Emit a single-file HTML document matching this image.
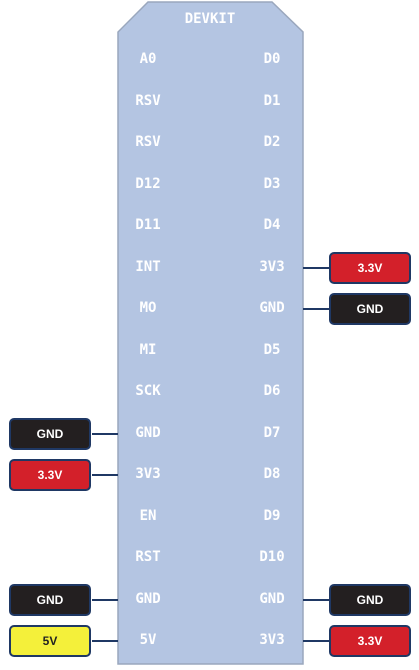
<!DOCTYPE html>
<html><head><style>
body{margin:0;width:419px;height:670px;background:#fff;position:relative;overflow:hidden;font-family:"DejaVu Sans Mono","Liberation Mono",monospace;}
.t{position:absolute;color:#fff;font-size:14px;font-weight:bold;width:60px;text-align:center;line-height:16px;}
.b{position:absolute;width:78px;height:28px;border:2.5px solid #1f3864;border-radius:5px;font-family:"Liberation Sans",sans-serif;font-size:12px;font-weight:bold;text-align:center;line-height:28px;}
.l{position:absolute;height:2px;background:#1f3864;}
</style></head><body>
<svg width="419" height="670" style="position:absolute;left:0;top:0">
<polygon points="148,2 272,2 303,32 303,664 118,664 118,32" fill="#b4c5e2" stroke="#9aa7bd" stroke-width="1.5"/>
</svg>
<div class="t" style="left:180px;top:11px">DEVKIT</div>
<div id="rows"></div>
<script>
var L=["A0","RSV","RSV","D12","D11","INT","MO","MI","SCK","GND","3V3","EN","RST","GND","5V"];
var R=["D0","D1","D2","D3","D4","3V3","GND","D5","D6","D7","D8","D9","D10","GND","3V3"];
var h="";
for(var i=0;i<15;i++){var y=51+41.5*i;
h+='<div class="t" style="left:118px;top:'+y+'px">'+L[i]+'</div>';
h+='<div class="t" style="left:242px;top:'+y+'px">'+R[i]+'</div>';}
function badge(side,i,txt,bg,fg){var y=58+41.5*i;
if(side=="l"){h+='<div class="l" style="left:92px;width:26px;top:'+(y+1)+'px"></div><div class="b" style="left:9px;top:'+(y-14)+'px;background:'+bg+';color:'+fg+'">'+txt+'</div>';}
else{h+='<div class="l" style="left:303px;width:27px;top:'+(y+1)+'px"></div><div class="b" style="left:329px;top:'+(y-14)+'px;background:'+bg+';color:'+fg+'">'+txt+'</div>';}}
badge("r",5,"3.3V","#d3202a","#fff");
badge("r",6,"GND","#231f20","#fff");
badge("l",9,"GND","#231f20","#fff");
badge("l",10,"3.3V","#d3202a","#fff");
badge("l",13,"GND","#231f20","#fff");
badge("l",14,"5V","#f4f03a","#222");
badge("r",13,"GND","#231f20","#fff");
badge("r",14,"3.3V","#d3202a","#fff");
document.getElementById("rows").innerHTML=h;
</script>
</body></html>
